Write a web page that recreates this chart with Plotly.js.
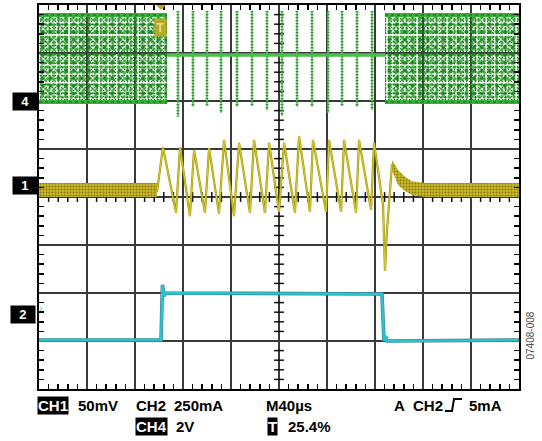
<!DOCTYPE html>
<html><head><meta charset="utf-8">
<script src="https://cdn.plot.ly/plotly-3.0.1.min.js"></script>
<style>html,body{margin:0;padding:0;background:#fff}</style>
</head><body><div id="chart" style="width:542px;height:441px"></div>
<script>
// Time in µs (M = 40 µs/div, 10 divs), vertical in screen divisions (0 = centre, ±4)
// ---- CH4 (green, 2 V/div) ----
const ch4BurstStart = [0, 288.3];
const ch4BurstEnd = [106.7, 400];
const ch4BandTop = [3.79, 3.79];
const ch4BandBottom = [1.98, 1.98];
const ch4MidTime = [106.7, 288.3];
const ch4MidLevel = [2.96, 2.96];
const ch4SpikeTimes = [115.8, 128.3, 140, 151.7, 165, 177.5, 190, 202.5, 215, 227.5, 240.8, 252.5, 265, 277.5];
const ch4SpikeTop = [3.87, 3.87, 3.87, 3.87, 3.87, 3.87, 3.87, 3.87, 3.87, 3.87, 3.87, 3.87, 3.87, 3.87];
const ch4SpikeBottom = [1.67, 1.88, 1.9, 1.75, 1.88, 1.9, 1.81, 1.69, 1.88, 1.88, 1.75, 1.9, 1.88, 1.81];
// ---- CH1 (yellow, 50 mV/div) ----
const ch1NoiseBeforeTime = [0, 98.3];
const ch1NoiseBeforeTop = [0.29, 0.29];
const ch1NoiseBeforeBottom = [0.0, 0.0];
const ch1Time = [98.3, 103.3, 114.2, 117.5, 125.8, 129.2, 138.3, 141.7, 150, 154.2, 162.5, 166.7, 175.8, 179.2, 188.3, 191.7, 200, 204.2, 213.3, 216.7, 225.8, 228.3, 239.2, 241.7, 251.7, 254.2, 264.2, 266.7, 276.7, 279.2, 286.7, 288.3, 290, 292.5, 294.2];
const ch1Div = [0.10, 1.04, -0.33, 1.04, -0.40, 0.98, -0.33, 1.02, -0.35, 1.19, -0.40, 1.13, -0.33, 1.19, -0.33, 1.13, -0.31, 1.13, -0.33, 1.27, -0.31, 1.19, -0.31, 1.19, -0.31, 1.19, -0.33, 1.19, -0.27, 1.13, -0.17, -1.54, -0.69, 0.25, 0.69];
const ch1RecoveryTime = [294.2, 299.2, 305, 310.8, 321.7, 400];
const ch1RecoveryTop = [0.77, 0.56, 0.42, 0.33, 0.29, 0.29];
const ch1RecoveryBottom = [0.56, 0.25, 0.125, 0.04, 0.0, 0.0];
// ---- CH2 (cyan, 250 mA/div) ----
const ch2Time = [0, 101.7, 102.5, 102.9, 104.2, 105.8, 285.8, 286.7, 287.5, 288.75, 290, 400];
const ch2Div = [-2.98, -2.98, -2.15, -1.83, -2.06, -2.0, -2.02, -2.83, -3.0, -2.9, -3.0, -2.98];
// ---- ground markers, trigger, readouts ----
const markerLabels = ['4', '1', '2'];
const markerLevels = [2.0, 0.25, -2.48];
const triggerPercent = 25.4;
const row1Labels = ['CH1', '50mV', 'CH2', '250mA', 'M40µs', 'A', 'CH2', '5mA'];
const row2Labels = ['CH4', '2V', 'T', '25.4%'];

const L = 39, T = 5, W = 480, H = 384;
const pxX = px => (px - L) / W;
const pxY = py => (T + H - py) / H;

const GREEN = '#17851a', GREEN2 = '#3aae3a', CYAN = '#25c6cf';
const traces = [];

// centre crosshair ticks
const cx = [], cy = [], vx = [], vy = [];
for (let k = 1; k < 50; k++) if (k % 5) { cx.push(k * 8); cy.push(0); }
for (let k = -19; k < 20; k++) if (k % 5) { vx.push(200); vy.push(k * 0.2); }
traces.push({x: cx, y: cy, mode: 'markers', marker: {symbol: 'line-ns', size: 7, line: {width: 1.5, color: '#111'}}});
traces.push({x: vx, y: vy, mode: 'markers', marker: {symbol: 'line-ew', size: 7, line: {width: 1.5, color: '#111'}}});

// CH4 switching bands (speckle via superposed dot patterns of unrelated pitch)
const speckles = [
  {shape: '.', fgcolor: GREEN, size: 3, solidity: 0.18},
  {shape: '.', fgcolor: '#0f6e12', size: 4.3, solidity: 0.22},
  {shape: '.', fgcolor: GREEN2, size: 5.9, solidity: 0.25},
  {shape: '.', fgcolor: GREEN, size: 7.7, solidity: 0.2}
];
for (let i = 0; i < ch4BurstStart.length; i++) {
  const a = ch4BurstStart[i], b = ch4BurstEnd[i], t = ch4BandTop[i], bt = ch4BandBottom[i];
  speckles.forEach(p => traces.push({x: [a, b, b, a, a], y: [t, t, bt, bt, t], mode: 'none', fill: 'toself',
    fillcolor: 'rgba(0,0,0,0)', fillpattern: Object.assign({bgcolor: 'rgba(255,255,255,0)'}, p)}));
  traces.push({x: [a, b], y: [t, t], mode: 'lines', line: {color: GREEN2, width: 4}});
  traces.push({x: [a, b], y: [t, t], mode: 'lines', line: {color: GREEN, width: 1.5, dash: 'dot'}});
  traces.push({x: [a, b], y: [bt, bt], mode: 'lines', line: {color: GREEN2, width: 4}});
  traces.push({x: [a, b], y: [bt, bt], mode: 'lines', line: {color: GREEN, width: 1.5, dash: 'dot'}});
}
// CH4 spikes
for (let i = 0; i < ch4SpikeTimes.length; i++) {
  const sx = [ch4SpikeTimes[i], ch4SpikeTimes[i]], sy = [ch4SpikeTop[i], ch4SpikeBottom[i]];
  traces.push({x: sx, y: sy, mode: 'lines', line: {color: '#6cc46c', width: 1.6}});
  traces.push({x: sx, y: sy, mode: 'lines', line: {color: GREEN, width: 3, dash: '1px,2px'}});
}
traces.push({x: ch4MidTime, y: ch4MidLevel, mode: 'lines', line: {color: '#4cbf4c', width: 3.5}});

// CH1
function band(xs, top, bot) {
  return {x: xs.concat(xs.slice().reverse()), y: top.concat(bot.slice().reverse()), mode: 'none', fill: 'toself',
    fillcolor: '#c4b42a', fillpattern: {shape: '.', fgcolor: '#8a7c00', bgcolor: '#c8b932', size: 3, solidity: 0.35}};
}
traces.push(band(ch1NoiseBeforeTime, ch1NoiseBeforeTop, ch1NoiseBeforeBottom));
traces.push(band(ch1RecoveryTime, ch1RecoveryTop, ch1RecoveryBottom));
traces.push({x: ch1Time, y: ch1Div, mode: 'lines', line: {color: '#a49600', width: 2.2}});
traces.push({x: ch1Time, y: ch1Div, mode: 'lines', line: {color: '#d9d040', width: 0.9}});

// CH2
traces.push({x: ch2Time, y: ch2Div, mode: 'lines', line: {color: '#4b7c88', width: 3.6}});
traces.push({x: ch2Time, y: ch2Div, mode: 'lines', line: {color: CYAN, width: 2.4}});

// shapes and annotations
const shapes = [], ann = [];
const F = {family: 'Liberation Sans, Arial, sans-serif', size: 15, color: '#000', weight: 'bold'};
markerLabels.forEach((lab, i) => {
  const yc = (markerLevels[i] + 4) / 8, h = 7.5 / H;
  if (lab === '2') {
    ann.push({xref: 'paper', yref: 'paper', x: pxX(36.5), y: yc, text: '›', showarrow: false,
      font: {family: 'DejaVu Sans', size: 10, color: CYAN}});
  } else {
    shapes.push({type: 'path', xref: 'paper', yref: 'paper', fillcolor: '#000', line: {width: 0}, layer: 'below',
      path: `M ${pxX(30)} ${yc + h} L ${pxX(37)} ${yc} L ${pxX(30)} ${yc - h} Z`});
  }
  ann.push({xref: 'paper', yref: 'paper', x: pxX(lab === '2' ? 10 : 12), xanchor: 'left', yanchor: 'middle',
    y: yc + (lab === '2' ? 2 / H : 0), text: '&nbsp;&nbsp;' + lab + '&nbsp;&nbsp;', showarrow: false, bgcolor: '#000', borderpad: 1,
    font: {family: 'Liberation Sans, Arial', size: 13, color: '#ffffff', weight: 'bold'}});
});
// trigger marker at top
const trigT = triggerPercent / 100 * 400;
ann.push({xref: 'x', yref: 'paper', x: trigT, y: pxY(18), text: 'T', showarrow: false, bgcolor: '#b9a824', borderpad: 1.5,
  font: {family: 'Liberation Sans, Arial', size: 12, color: '#e8dc8a', weight: 'bold'}});
shapes.push({type: 'path', xref: 'paper', yref: 'paper', fillcolor: '#b9a824', line: {width: 0},
  path: `M ${pxX(156)} ${pxY(5)} L ${pxX(166)} ${pxY(5)} L ${pxX(161)} ${pxY(10)} Z`});

// bottom readouts
const r1x = [37, 77, 135, 173, 265, 393, 412, 468];
const r2x = [135, 175, 267, 287];
const boxed1 = [true, false, false, false, false, false, false, false];
const boxed2 = [true, false, true, false];
row1Labels.forEach((s, i) => ann.push({xref: 'paper', yref: 'paper', x: pxX(r1x[i]), y: pxY(405), xanchor: 'left', yanchor: 'middle',
  text: s, showarrow: false, borderpad: 0, bgcolor: boxed1[i] ? '#000' : 'rgba(0,0,0,0)', font: Object.assign({}, F, {color: boxed1[i] ? '#fff' : '#000'})}));
row2Labels.forEach((s, i) => ann.push({xref: 'paper', yref: 'paper', x: pxX(r2x[i]), y: pxY(426), xanchor: 'left', yanchor: 'middle',
  text: s, showarrow: false, borderpad: 0, bgcolor: boxed2[i] ? '#000' : 'rgba(0,0,0,0)', font: Object.assign({}, F, {color: boxed2[i] ? '#fff' : '#000'})}));
// rising-edge symbol
shapes.push({type: 'path', xref: 'paper', yref: 'paper', line: {color: '#000', width: 2},
  path: `M ${pxX(445)} ${pxY(411)} L ${pxX(452)} ${pxY(411)} L ${pxX(454)} ${pxY(399)} L ${pxX(462)} ${pxY(399)}`});
ann.push({xref: 'paper', yref: 'paper', x: pxX(537), y: pxY(362), text: '07408-008', textangle: -90, showarrow: false,
  font: {family: 'Liberation Sans, Arial', size: 10, color: '#444'}});

const axisCommon = {showticklabels: false, showgrid: true, gridcolor: '#3a3a3a', gridwidth: 1.6, zeroline: false,
  showline: true, linecolor: '#000', linewidth: 2, mirror: 'allticks', ticks: '', fixedrange: true};
const layout = {
  width: 542, height: 441, margin: {l: L, r: 542 - L - W, t: T, b: 441 - T - H, pad: 0},
  paper_bgcolor: '#fff', plot_bgcolor: '#fff', showlegend: false,
  xaxis: Object.assign({}, axisCommon, {range: [0, 400], dtick: 40, tick0: 0,
    minor: {dtick: 8, tick0: 0, ticks: 'inside', ticklen: 5, tickwidth: 1.5, tickcolor: '#000', showgrid: false}}),
  yaxis: Object.assign({}, axisCommon, {range: [-4, 4], dtick: 1, tick0: 0,
    minor: {dtick: 0.2, tick0: 0, ticks: 'inside', ticklen: 5, tickwidth: 1.5, tickcolor: '#000', showgrid: false}}),
  shapes: shapes, annotations: ann
};
Plotly.newPlot('chart', traces, layout, {staticPlot: true, displayModeBar: false});
</script></body></html>
